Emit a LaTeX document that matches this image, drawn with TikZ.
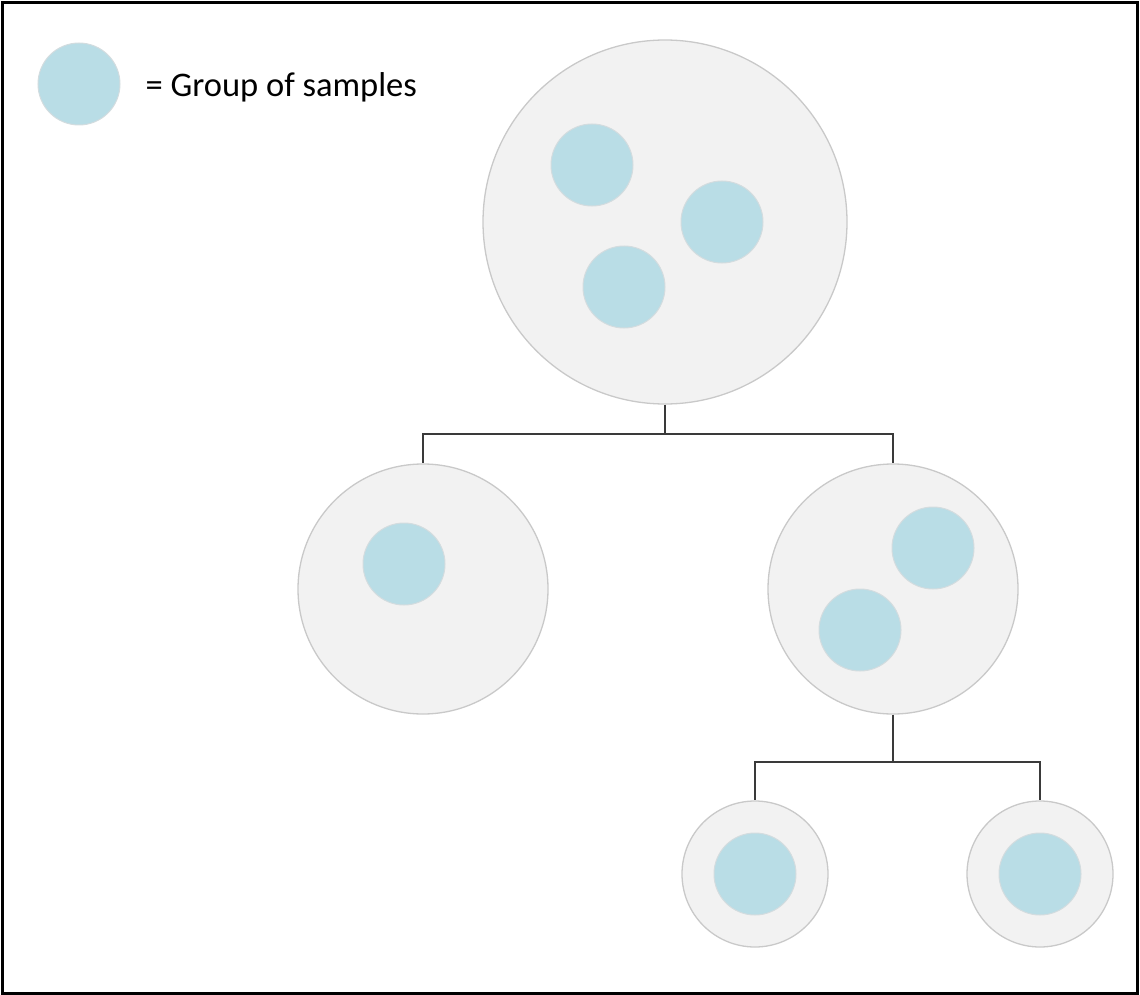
\documentclass[tikz,border=0pt]{standalone}
\usepackage{fontspec}
\setmainfont{Carlito}
\usepackage{tikz}
\usetikzlibrary{positioning}

\definecolor{setgrey}{HTML}{F2F2F2}
\definecolor{setline}{HTML}{C9C9C9}
\definecolor{groupblue}{HTML}{B9DDE6}
\definecolor{groupline}{HTML}{D3DCDF}
\definecolor{linkgrey}{HTML}{3A3A3A}

\begin{document}
\begin{tikzpicture}[
            x=1pt, y=-1pt,
            set/.style={circle, fill=setgrey, draw=setline, line width=1.3pt, inner sep=0pt},
            group/.style={circle, fill=groupblue, draw=groupline, line width=1pt, inner sep=0pt, minimum size=82pt},
            link/.style={draw=linkgrey, line width=1.8pt},
            empty/.style={coordinate}
        ]

        %frame
        \useasboundingbox (0,0) rectangle (1140,995);
        \draw[line width=3pt] (2.5,2.5) rectangle (1137.5,993);

        %legend
        \node[group]        (key)       at (79,84)      {};
        \node[anchor=west, inner sep=0pt, font=\fontsize{34.5}{40}\selectfont]
                            (keytext)   [right=25pt of key, yshift=-3pt]  {= Group of samples};

        %sets
        \node[set, minimum size=364pt]  (root)   at (665,222)  {};
        \node[set, minimum size=250pt]  (midL)   at (423,589)  {};
        \node[set, minimum size=250pt]  (midR)   at (893,589)  {};
        \node[set, minimum size=146pt]  (leafL)  at (755,874)  {};
        \node[set, minimum size=146pt]  (leafR)  at (1040,874) {};

        %groups
        \node[group]        (r1)        at (592,165)    {};
        \node[group]        (r2)        at (722,222)    {};
        \node[group]        (r3)        at (624,287)    {};
        \node[group]        (l1)        at (404,564)    {};
        \node[group]        (m1)        at (933,548)    {};
        \node[group]        (m2)        at (860,630)    {};
        \node[group]        (b1)        at (leafL)      {};
        \node[group]        (b2)        at (leafR)      {};

        %split coordinates
        \node[empty]        (split1)    at (665,434)    {};
        \node[empty]        (split2)    at (893,762)    {};

        %links
        \draw[link]         (root.south) -- (split1);
        \draw[link]         (split1) -| (midL.north);
        \draw[link]         (split1) -| (midR.north);
        \draw[link]         (midR.south) -- (split2);
        \draw[link]         (split2) -| (leafL.north);
        \draw[link]         (split2) -| (leafR.north);

\end{tikzpicture}
\end{document}
